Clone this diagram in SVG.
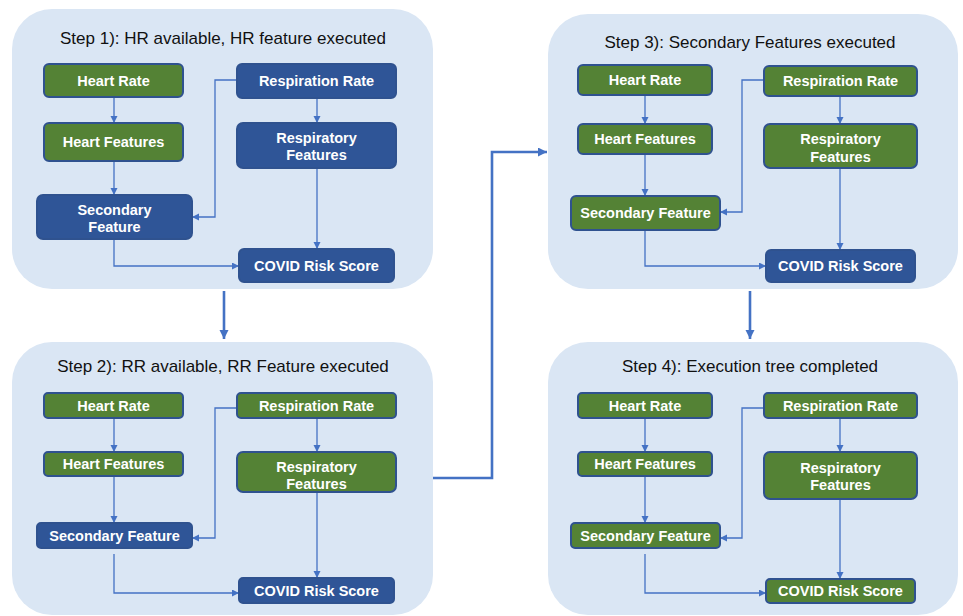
<svg xmlns="http://www.w3.org/2000/svg" width="963" height="616" viewBox="0 0 963 616">
<defs>
<style>
.panel{fill:#dae6f4;}
.title{font-family:"Liberation Sans",Arial,sans-serif;font-size:17px;fill:#111;text-anchor:middle;}
.g{fill:#548235;stroke:#2f528f;stroke-width:2;}
.b{fill:#2f5597;stroke:#2f528f;stroke-width:2;}
.t{font-family:"Liberation Sans",Arial,sans-serif;font-size:14.5px;font-weight:bold;fill:#fff;text-anchor:middle;}
.c{fill:none;stroke:#4472c4;stroke-width:1.3;marker-end:url(#ah);}
.big{fill:none;stroke:#4472c4;stroke-width:2.6;marker-end:url(#bh);}
</style>
<marker id="ah" markerUnits="userSpaceOnUse" markerWidth="8" markerHeight="8" refX="7" refY="3.5" orient="auto"><path d="M0,0 L7,3.5 L0,7 z" fill="#4472c4"/></marker>
<marker id="bh" markerUnits="userSpaceOnUse" markerWidth="10" markerHeight="10" refX="9" refY="4.5" orient="auto"><path d="M0,0 L9,4.5 L0,9 z" fill="#4472c4"/></marker>
</defs>
<rect width="963" height="616" fill="#ffffff"/>
<g id="panels">
<rect class="panel" x="12" y="9" width="421" height="280" rx="40"/>
<rect class="panel" x="12" y="342" width="421" height="273" rx="40"/>
<rect class="panel" x="548" y="14" width="410" height="275" rx="40"/>
<rect class="panel" x="548" y="342" width="410" height="273" rx="40"/>
<text class="title" x="223" y="44">Step 1): HR available, HR feature executed</text>
<text class="title" x="223" y="372">Step 2): RR available, RR Feature executed</text>
<text class="title" x="750" y="48">Step 3): Secondary Features executed</text>
<text class="title" x="750" y="372">Step 4): Execution tree completed</text>
</g>
<g id="connectors">
<path class="c" d="M114,97 V123"/>
<path class="c" d="M114,161 V195"/>
<path class="c" d="M237,80 H215 V217 H192"/>
<path class="c" d="M317,98 V123"/>
<path class="c" d="M317,168 V249"/>
<path class="c" d="M114,239 V266 H239"/>
<path class="c" d="M114,418 V452"/>
<path class="c" d="M114,476 V523"/>
<path class="c" d="M237,408 H215 V538 H192"/>
<path class="c" d="M317,418 V452"/>
<path class="c" d="M317,492 V578"/>
<path class="c" d="M114,554 V593 H239"/>
<path class="c" d="M645,95 V124"/>
<path class="c" d="M645,154 V196"/>
<path class="c" d="M764,80 H742 V212 H720"/>
<path class="c" d="M840,96 V124"/>
<path class="c" d="M840,168 V250"/>
<path class="c" d="M645,230 V266 H766"/>
<path class="c" d="M645,418 V452"/>
<path class="c" d="M645,476 V523"/>
<path class="c" d="M764,408 H742 V538 H720"/>
<path class="c" d="M840,418 V452"/>
<path class="c" d="M840,499 V579"/>
<path class="c" d="M645,554 V593 H766"/>
<path class="big" d="M224,291 V339"/>
<path class="big" d="M433,478 H492 V152 H547"/>
<path class="big" d="M750,291 V339"/>
</g>
<g id="p1-heart-rate"><rect class="g" x="44" y="64" width="139" height="33" rx="5"/><text class="t" x="113.5" y="86">Heart Rate</text></g>
<g id="p1-heart-features"><rect class="g" x="44" y="123" width="139" height="38" rx="5"/><text class="t" x="113.5" y="147">Heart Features</text></g>
<g id="p1-secondary"><rect class="b" x="37" y="195" width="155" height="44" rx="6"/><text class="t" x="114.5" y="215">Secondary</text><text class="t" x="114.5" y="232">Feature</text></g>
<g id="p1-resp-rate"><rect class="b" x="237" y="64" width="159" height="34" rx="5"/><text class="t" x="316.5" y="86">Respiration Rate</text></g>
<g id="p1-resp-features"><rect class="b" x="237" y="123" width="159" height="45" rx="6"/><text class="t" x="316.5" y="143">Respiratory</text><text class="t" x="316.5" y="160">Features</text></g>
<g id="p1-covid"><rect class="b" x="239" y="249" width="155" height="33" rx="5"/><text class="t" x="316.5" y="270.5">COVID Risk Score</text></g>
<g id="p2-heart-rate"><rect class="g" x="44" y="393" width="139" height="25" rx="4"/><text class="t" x="113.5" y="410.5">Heart Rate</text></g>
<g id="p2-heart-features"><rect class="g" x="44" y="452" width="139" height="24" rx="4"/><text class="t" x="113.5" y="469">Heart Features</text></g>
<g id="p2-secondary"><rect class="b" x="37" y="523" width="155" height="25" rx="4"/><text class="t" x="114.5" y="540.5">Secondary Feature</text></g>
<g id="p2-resp-rate"><rect class="g" x="237" y="393" width="159" height="25" rx="4"/><text class="t" x="316.5" y="410.5">Respiration Rate</text></g>
<g id="p2-resp-features"><rect class="g" x="237" y="452" width="159" height="40" rx="6"/><text class="t" x="316.5" y="472">Respiratory</text><text class="t" x="316.5" y="489">Features</text></g>
<g id="p2-covid"><rect class="b" x="239" y="578" width="155" height="25" rx="4"/><text class="t" x="316.5" y="595.5">COVID Risk Score</text></g>
<g id="p3-heart-rate"><rect class="g" x="578" y="65" width="134" height="30" rx="5"/><text class="t" x="645" y="85">Heart Rate</text></g>
<g id="p3-heart-features"><rect class="g" x="578" y="124" width="134" height="30" rx="5"/><text class="t" x="645" y="144">Heart Features</text></g>
<g id="p3-secondary"><rect class="g" x="571" y="196" width="149" height="34" rx="5"/><text class="t" x="645.5" y="218">Secondary Feature</text></g>
<g id="p3-resp-rate"><rect class="g" x="764" y="66" width="153" height="30" rx="5"/><text class="t" x="840.5" y="86">Respiration Rate</text></g>
<g id="p3-resp-features"><rect class="g" x="764" y="124" width="153" height="44" rx="6"/><text class="t" x="840.5" y="144">Respiratory</text><text class="t" x="840.5" y="162">Features</text></g>
<g id="p3-covid"><rect class="b" x="766" y="250" width="149" height="32" rx="5"/><text class="t" x="840.5" y="271">COVID Risk Score</text></g>
<g id="p4-heart-rate"><rect class="g" x="578" y="393" width="134" height="25" rx="4"/><text class="t" x="645" y="410.5">Heart Rate</text></g>
<g id="p4-heart-features"><rect class="g" x="578" y="452" width="134" height="24" rx="4"/><text class="t" x="645" y="469">Heart Features</text></g>
<g id="p4-secondary"><rect class="g" x="571" y="523" width="149" height="25" rx="4"/><text class="t" x="645.5" y="540.5">Secondary Feature</text></g>
<g id="p4-resp-rate"><rect class="g" x="764" y="393" width="153" height="25" rx="4"/><text class="t" x="840.5" y="410.5">Respiration Rate</text></g>
<g id="p4-resp-features"><rect class="g" x="764" y="452" width="153" height="47" rx="6"/><text class="t" x="840.5" y="472.5">Respiratory</text><text class="t" x="840.5" y="489.5">Features</text></g>
<g id="p4-covid"><rect class="g" x="766" y="579" width="149" height="24" rx="4"/><text class="t" x="840.5" y="596">COVID Risk Score</text></g>
</svg>
